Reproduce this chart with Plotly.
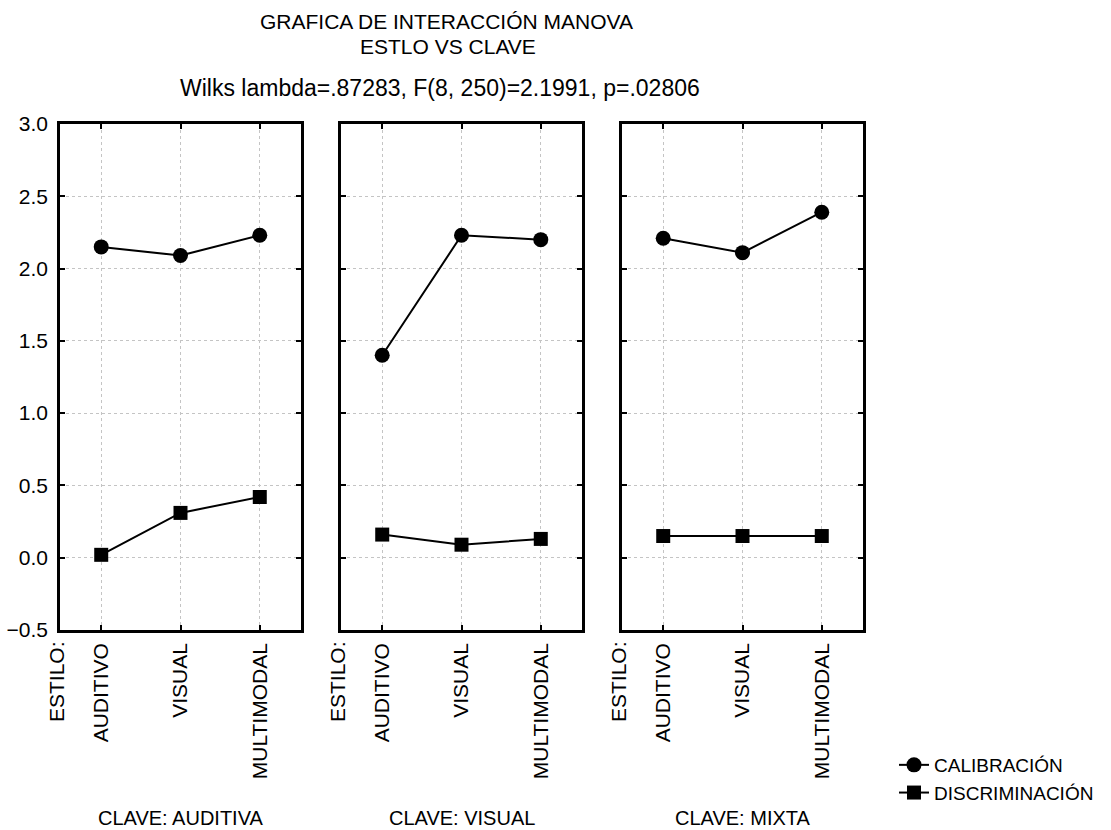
import plotly.graph_objects as go

W, H = 1111, 830

estilos = ["AUDITIVO", "VISUAL", "MULTIMODAL"]
claves = ["CLAVE: AUDITIVA", "CLAVE: VISUAL", "CLAVE: MIXTA"]

# means per panel (clave) for each estilo
calibracion = [
    [2.15, 2.09, 2.23],   # clave auditiva
    [1.40, 2.23, 2.20],   # clave visual
    [2.21, 2.11, 2.39],   # clave mixta
]
discriminacion = [
    [0.02, 0.31, 0.42],
    [0.16, 0.09, 0.13],
    [0.15, 0.15, 0.15],
]
series_names = ["CALIBRACIÓN", "DISCRIMINACIÓN"]
y_ticks = [-0.5, 0.0, 0.5, 1.0, 1.5, 2.0, 2.5, 3.0]

title_lines = ["GRAFICA DE INTERACCIÓN MANOVA", "ESTLO VS CLAVE"]
subtitle = "Wilks lambda=.87283, F(8, 250)=2.1991, p=.02806"

FONT = "Liberation Sans, Arial, sans-serif"

def px(x):
    return x / W

def py(y):
    return 1 - y / H

panel_px = [(60, 301), (341, 582), (622, 863)]
y_dom = [py(630), py(124)]

fig = go.Figure()
xpos = [1, 2, 3]

for i in range(3):
    xa = "x" if i == 0 else f"x{i+1}"
    ya = "y" if i == 0 else f"y{i+1}"
    fig.add_trace(go.Scatter(
        x=xpos, y=calibracion[i], mode="lines+markers",
        name=series_names[0], legendgroup="c", showlegend=(i == 0),
        line=dict(color="black", width=2),
        marker=dict(symbol="circle", size=15, color="black"),
        xaxis=xa, yaxis=ya))
    fig.add_trace(go.Scatter(
        x=xpos, y=discriminacion[i], mode="lines+markers",
        name=series_names[1], legendgroup="d", showlegend=(i == 0),
        line=dict(color="black", width=2),
        marker=dict(symbol="square", size=14, color="black"),
        xaxis=xa, yaxis=ya))

layout = dict(
    width=W, height=H,
    margin=dict(l=0, r=0, t=0, b=0, autoexpand=False),
    paper_bgcolor="white", plot_bgcolor="white",
    font=dict(family=FONT, color="black", size=20),
    showlegend=True,
    legend=dict(x=px(894), y=py(746), xanchor="left", yanchor="top",
                font=dict(family=FONT, size=19, color="black"),
                bgcolor="rgba(0,0,0,0)", tracegroupgap=0),
)

axis_common = dict(
    showline=True, linecolor="black", linewidth=2.5, mirror="allticks",
    ticks="inside", ticklen=5, tickwidth=2, tickcolor="black",
    showgrid=True, gridcolor="#c4c4c4", griddash="dot", gridwidth=1,
    zeroline=False, automargin=False,
)

for i, (l, r) in enumerate(panel_px):
    xkey = "xaxis" if i == 0 else f"xaxis{i+1}"
    ykey = "yaxis" if i == 0 else f"yaxis{i+1}"
    yname = "y" if i == 0 else f"y{i+1}"
    xname = "x" if i == 0 else f"x{i+1}"
    layout[xkey] = dict(
        axis_common, domain=[px(l), px(r)], range=[0.48, 3.52],
        tickvals=xpos, ticktext=estilos, tickangle=-90,
        tickfont=dict(family=FONT, size=21, color="black"),
        ticklabelstandoff=2,
        anchor=yname, fixedrange=True)
    layout[ykey] = dict(
        axis_common, domain=y_dom, range=[-0.5, 3.0],
        tickvals=y_ticks, tickformat=".1f",
        showticklabels=(i == 0),
        tickfont=dict(family=FONT, size=21, color="black"),
        ticklabelstandoff=5,
        anchor=xname, fixedrange=True)

fig.update_layout(**layout)

annotations = []
annotations.append(dict(text=title_lines[0], x=px(446), y=py(21), xref="paper", yref="paper",
                        showarrow=False, xanchor="center", yanchor="middle",
                        font=dict(family=FONT, size=21, color="black")))
annotations.append(dict(text=title_lines[1], x=px(448), y=py(47), xref="paper", yref="paper",
                        showarrow=False, xanchor="center", yanchor="middle",
                        font=dict(family=FONT, size=21, color="black")))
annotations.append(dict(text=subtitle, x=px(440), y=py(88), xref="paper", yref="paper",
                        showarrow=False, xanchor="center", yanchor="middle",
                        font=dict(family=FONT, size=23, color="black")))

for i, (l, r) in enumerate(panel_px):
    annotations.append(dict(text="ESTILO:", x=px(l - 3.5), y=py(639), xref="paper", yref="paper",
                            showarrow=False, textangle=-90, xanchor="center", yanchor="top",
                            font=dict(family=FONT, size=21, color="black")))
    annotations.append(dict(text=claves[i], x=px((l + r) / 2), y=py(818), xref="paper", yref="paper",
                            showarrow=False, xanchor="center", yanchor="middle",
                            font=dict(family=FONT, size=20, color="black")))

fig.update_layout(annotations=annotations)

fig.write_html("out.html")
